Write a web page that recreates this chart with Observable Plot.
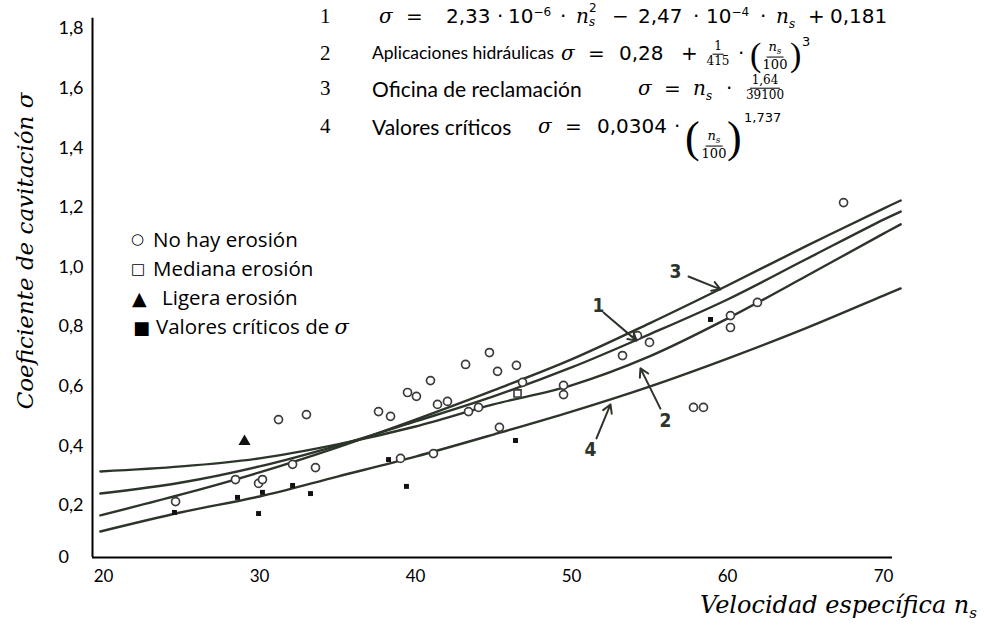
<!DOCTYPE html>
<html><head><meta charset="utf-8">
<script src="https://cdn.jsdelivr.net/npm/d3@7"></script>
<script src="https://cdn.jsdelivr.net/npm/@observablehq/plot@0.6"></script>
<style>
body{margin:0;background:#fff;}
#wrap{position:relative;width:984px;height:633px;overflow:hidden;background:#fff;}
#wrap svg{position:absolute;left:0;top:0;}
.p{position:absolute;white-space:pre;transform:translateY(-50%);line-height:1;color:#000;}
.t{font-family:Lato,sans-serif;font-size:17.5px;}
.d{font-family:"DejaVu Sans",sans-serif;font-size:20px;}
.m{font-family:"DejaVu Serif",serif;font-style:italic;font-size:20px;}
.k{font-family:"Liberation Serif",serif;font-size:21px;}
.frac{display:flex;flex-direction:column;align-items:center;font-family:"DejaVu Serif",serif;font-size:12px;line-height:1.15;transform:translate(-50%,-50%);}
.frac>span:first-child{border-bottom:1.3px solid #000;padding:0 2px;}
.par{font-family:"Liberation Serif",serif;font-size:34px;}
.leg{font-family:"Open Sans",sans-serif;font-size:20.5px;}
.lab{position:absolute;white-space:nowrap;font-family:"DejaVu Serif",serif;font-style:italic;font-size:23px;color:#000;line-height:1;}
</style>
</head><body>
<div id="wrap"></div>
<script>
// ---- axis ticks ----
const xTicks = [20, 30, 40, 50, 60, 70];
const yTicks = [0, 0.2, 0.4, 0.6, 0.8, 1.0, 1.2, 1.4, 1.6, 1.8];
const yTickLabels = ["0", "0,2", "0,4", "0,6", "0,8", "1,0", "1,2", "1,4", "1,6", "1,8"];

// ---- curves ----
const curveN  = [19.8, 25, 30, 35, 40, 45, 50, 55, 60, 65, 70, 71.1];
const curve1  = [0.240, 0.277, 0.331, 0.401, 0.482, 0.566, 0.663, 0.774, 0.891, 1.025, 1.159, 1.186];
const curve2  = [0.314, 0.331, 0.358, 0.405, 0.465, 0.539, 0.603, 0.700, 0.827, 0.968, 1.112, 1.143];
const curve3  = [0.162, 0.237, 0.311, 0.395, 0.488, 0.586, 0.690, 0.811, 0.938, 1.069, 1.196, 1.223];
const curve4  = [0.100, 0.174, 0.230, 0.297, 0.364, 0.438, 0.515, 0.599, 0.693, 0.794, 0.904, 0.928];

// ---- markers ----
const noErosionN = [24.62, 28.46, 29.94, 30.19, 31.22, 33.01, 32.12, 33.59, 37.63, 38.40, 39.04, 39.49, 40.06, 40.96, 41.41, 42.05, 41.15, 43.21, 44.74, 45.26, 46.47, 46.86, 43.40, 44.04, 45.38, 49.49, 49.49, 53.27, 54.23, 55.0, 60.19, 60.19, 61.92, 67.44, 57.82, 58.46];
const noErosionV = [0.213, 0.287, 0.274, 0.287, 0.488, 0.505, 0.338, 0.327, 0.515, 0.499, 0.358, 0.579, 0.566, 0.619, 0.539, 0.549, 0.374, 0.673, 0.713, 0.650, 0.670, 0.613, 0.515, 0.529, 0.462, 0.603, 0.572, 0.703, 0.770, 0.747, 0.837, 0.797, 0.881, 1.216, 0.529, 0.529];
const medianaN = [46.54];
const medianaV = [0.576];
const ligeraN = [29.04];
const ligeraV = [0.415];
const criticosN = [24.55, 28.59, 30.19, 29.94, 32.12, 33.27, 38.27, 39.42, 46.41, 58.91];
const criticosV = [0.173, 0.227, 0.244, 0.169, 0.267, 0.240, 0.354, 0.264, 0.418, 0.824];

// ---- curve labels with arrows ----
const curveLabels = ["1", "2", "3", "4"];
const labelN = [51.73, 56.03, 56.67, 51.22];
const labelV = [0.871, 0.485, 0.982, 0.385];
const arrowN1 = [52.05, 55.70, 57.50, 51.60];
const arrowV1 = [0.847, 0.525, 0.968, 0.425];
const arrowN2 = [54.17, 54.42, 59.55, 52.50];
const arrowV2 = [0.753, 0.660, 0.925, 0.539];

// ---- build tables ----
const curves = [["1", curve1], ["2", curve2], ["3", curve3], ["4", curve4]]
  .flatMap(([k, vals]) => vals.map((v, i) => ({curve: k, n: curveN[i], v})));
const pts = (N, V) => N.map((n, i) => ({n, v: V[i]}));
const annots = curveLabels.map((t, i) => ({t, n: labelN[i], v: labelV[i], x1: arrowN1[i], y1: arrowV1[i], x2: arrowN2[i], y2: arrowV2[i]}));
const xMin = 19.295, xMax = 70.577, yTop = 1.834;
const fmtY = d => yTickLabels[yTicks.indexOf(d)];
// the printed axis puts the "0" tick closer to 0,2 than the other steps
const squeeze = v => v >= 0.2 ? v : 0.2 - (0.2 - v) * (52 / 59.6);

const ink = "#2d352b";
const plot = Plot.plot({
  width: 984, height: 633,
  marginLeft: 92, marginRight: 92, marginTop: 28, marginBottom: 76,
  x: {domain: [xMin, xMax], range: [92, 892], axis: null},
  y: {transform: squeeze, domain: [squeeze(0), 1.8], range: [557, 28], axis: null},
  style: {background: "transparent", overflow: "visible"},
  marks: [
    Plot.ruleX([xMin], {y1: 0, y2: yTop, stroke: "#000", strokeWidth: 2}),
    Plot.ruleY([0], {x1: xMin, x2: xMax, stroke: "#000", strokeWidth: 2.2}),
    Plot.text(yTicks, {x: xMin, y: d => d, text: fmtY, textAnchor: "start", dx: -34, fontSize: 18, fontFamily: "Lato, sans-serif", fill: "#000"}),
    Plot.text(xTicks, {x: d => d, y: 0, text: d => String(d), dy: 19, fontSize: 17, fontFamily: "Lato, sans-serif", fill: "#000"}),
    Plot.line(curves, {x: "n", y: "v", z: "curve", curve: "catmull-rom", stroke: ink, strokeWidth: 2.4}),
    Plot.dot(pts(noErosionN, noErosionV), {x: "n", y: "v", r: 4, stroke: "#3b3b3b", strokeWidth: 1.7, fill: "white"}),
    Plot.dot(pts(medianaN, medianaV), {x: "n", y: "v", r: 4, symbol: "square", stroke: "#3b3b3b", strokeWidth: 1.6, fill: "white"}),
    Plot.dot(pts(ligeraN, ligeraV), {x: "n", y: "v", r: 4.5, symbol: "triangle", fill: "#111", stroke: "none"}),
    Plot.dot(pts(criticosN, criticosV), {x: "n", y: "v", r: 2.8, symbol: "square", fill: "#111", stroke: "none"}),
    Plot.arrow(annots, {x1: "x1", y1: "y1", x2: "x2", y2: "y2", stroke: ink, strokeWidth: 2, headLength: 7}),
    Plot.text(annots, {x: "n", y: "v", text: "t", fontSize: 19, fontWeight: "bold", fontFamily: "'DejaVu Sans Condensed', sans-serif", fill: ink})
  ]
});
const wrap = document.getElementById("wrap");
wrap.appendChild(plot);

// ---- formula block and legend (HTML text overlay) ----
const P = (html, x, y, cls, extra = "") => `<div class="p ${cls}" style="left:${x}px;top:${y}px;${extra}">${html}</div>`;
const F = (num, den, x, y, fs = 12) => `<div class="p frac" style="left:${x}px;top:${y}px;font-size:${fs}px">${"<span>" + num + "</span><span>" + den + "</span>"}</div>`;
const ns = `n<sub style="font-size:12px">s</sub>`;
const nsf = `<i>n</i><sub style="font-size:9px"><i>s</i></sub>`;
let h = "";
// row 1
let y = 16;
h += P("1", 320, y, "k");
h += P("σ", 379, y, "m");
h += P("=", 406, y, "d");
h += P("2,33", 446, y, "d");
h += P("·", 497, y, "d");
h += P("10<sup style='font-size:12px'>−6</sup>", 508, y, "d");
h += P("·", 560, y, "d");
h += P("n", 576, y, "m");
h += P("2", 589, y - 8, "d", "font-size:12px");
h += P("s", 589, y + 6, "m", "font-size:12px");
h += P("−", 612, y, "d");
h += P("2,47", 638, y, "d");
h += P("·", 693, y, "d");
h += P("10<sup style='font-size:12px'>−4</sup>", 706, y, "d");
h += P("·", 760, y, "d");
h += P(ns, 776, y + 2, "m");
h += P("+", 808, y, "d");
h += P("0,181", 830, y, "d");
// row 2
y = 53;
h += P("2", 320, y, "k");
h += P("Aplicaciones hidráulicas", 372, y, "t");
h += P("σ", 561, y, "m");
h += P("=", 588, y, "d");
h += P("0,28", 619, y, "d");
h += P("+", 681, y, "d");
h += F("1", "415", 718, y + 1);
h += P("·", 738, y, "d");
h += P("(", 750, y + 2, "par");
h += F(nsf, "100", 775, y + 3, 13);
h += P(")", 790, y + 2, "par");
h += P("3", 802, y - 12, "d", "font-size:13px");
// row 3
y = 88;
h += P("3", 320, y, "k");
h += P("Oficina de reclamación", 372, y, "t", "font-size:21px");
h += P("σ", 638, y, "m");
h += P("=", 664, y, "d");
h += P(ns, 693, y + 2, "m");
h += P("·", 726, y, "d");
h += F("1,64", "39100", 765, y);
// row 4
y = 126;
h += P("4", 320, y, "k");
h += P("Valores críticos", 372, y, "t", "font-size:21px");
h += P("σ", 538, y, "m");
h += P("=", 565, y, "d");
h += P("0,0304", 597, y, "d");
h += P("·", 674, y, "d");
h += P("(", 685, y + 12, "par", "font-size:44px");
h += F(nsf, "100", 714, y + 19, 13);
h += P(")", 727, y + 12, "par", "font-size:44px");
h += P("1,737", 744, y - 9, "d", "font-size:13px");
// legend
h += P("○", 131, 239, "d", "font-size:15px");
h += P("No hay erosión", 153, 239, "leg");
h += P("□", 131, 269, "d", "font-size:15px");
h += P("Mediana erosión", 153, 268, "leg");
h += P("▲", 132, 298, "d", "font-size:19px");
h += P("Ligera erosión", 162, 297, "leg");
h += P("■", 133, 328, "d", "font-size:18px");
h += P("Valores críticos de <span class='m' style='font-size:21px'>σ</span>", 156, 327, "leg");
// axis titles
h += `<div class="lab" style="left:25px;top:251px;transform:translate(-50%,-50%) rotate(-90deg)">Coeficiente de cavitación σ</div>`;
h += `<div class="lab" style="left:700px;top:607px;font-size:24px;transform:translateY(-50%)">Velocidad específica n<sub style="font-size:15px">s</sub></div>`;
wrap.insertAdjacentHTML("beforeend", h);
</script>
</body></html>
